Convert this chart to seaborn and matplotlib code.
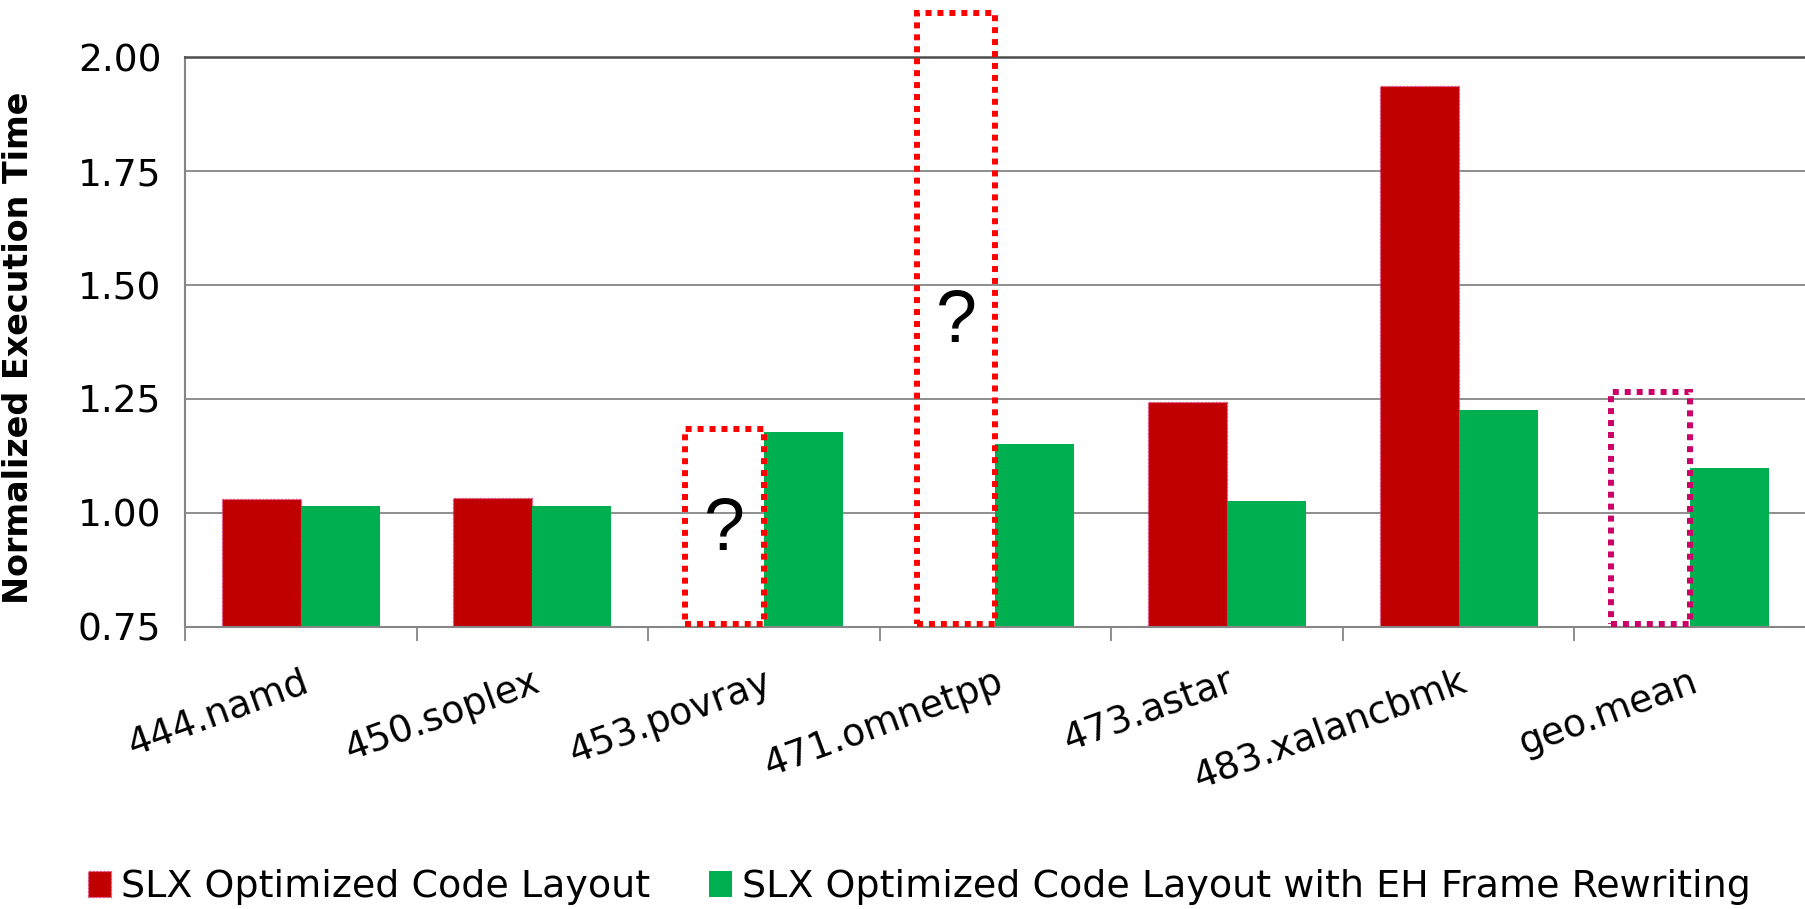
import numpy as np
import pandas as pd
import matplotlib
matplotlib.use("Agg")
import matplotlib.pyplot as plt
from matplotlib.patches import Rectangle, Patch
import seaborn as sns

# ---- data -------------------------------------------------------------
benchmarks = ["444.namd", "450.soplex", "453.povray", "471.omnetpp",
              "473.astar", "483.xalancbmk", "geo.mean"]
layout_only = [1.031, 1.033, np.nan, np.nan, 1.243, 1.936, np.nan]
layout_eh = [1.015, 1.015, 1.178, 1.150, 1.027, 1.226, 1.098]
series_names = ["SLX Optimized Code Layout",
                "SLX Optimized Code Layout with EH Frame Rewriting"]
# results that could not be measured are outlined instead of filled
unknown_benchmarks = ["453.povray", "471.omnetpp", "geo.mean"]
unknown_box_tops = [1.183, 2.097, 1.265]
y_ticks = [0.75, 1.00, 1.25, 1.50, 1.75, 2.00]

# ---- styling ----------------------------------------------------------
sns.set_theme(style="white")
plt.rcParams["font.family"] = ["DejaVu Sans"]
plt.rcParams["text.color"] = "black"

RED = "#C00000"
GREEN = "#00B050"
AXIS_GRAY = "#868686"

df = pd.DataFrame({
    "benchmark": benchmarks * 2,
    "series": [series_names[0]] * len(benchmarks) + [series_names[1]] * len(benchmarks),
    "time": layout_only + layout_eh,
})

W, H = 1806, 909
fig = plt.figure(figsize=(W / 100, H / 100), dpi=100)
ax_left, ax_bottom, ax_top = 185, 626.7, 57.3
ax = fig.add_axes([ax_left / W, 1 - ax_bottom / H, (W - ax_left) / W, (ax_bottom - ax_top) / H])

sns.barplot(data=df, x="benchmark", y="time", hue="series",
            order=benchmarks, hue_order=series_names,
            palette=[RED, GREEN], saturation=1, width=0.682,
            errorbar=None, ax=ax, legend=False)

# thin dotted outline on the red bars
for p in ax.patches:
    fc = p.get_facecolor()
    if fc[0] > 0.6 and fc[1] < 0.1:
        p.set_edgecolor("#E8409A")
        p.set_linestyle(":")
        p.set_linewidth(1.0)
    else:
        p.set_linewidth(0)

ax.set_ylim(0.75, 2.0)
ax.set_xlim(-0.5, len(benchmarks) - 0.5)
ax.set_yticks(y_ticks)
ax.set_yticklabels([f"{v:.2f}" for v in y_ticks], fontsize=27, color="black")
ax.yaxis.grid(True, color=AXIS_GRAY, linewidth=1.3)
ax.set_axisbelow(True)

# category boundary tick marks
ax.set_xticks(np.arange(-0.5, len(benchmarks), 1.0), minor=True)
ax.tick_params(axis="x", which="minor", length=10, width=1.3,
               color=AXIS_GRAY, direction="out", bottom=True)
ax.tick_params(axis="x", which="major", length=0, pad=27)
ax.tick_params(axis="y", length=0, pad=17)
ax.set_xticks(range(len(benchmarks)))
ax.set_xticklabels(benchmarks, rotation=20, ha="right", va="top",
                   rotation_mode="anchor", fontsize=27, color="black")

ax.set_xlabel("")
ax.set_ylabel("Normalized Execution Time", fontsize=24, fontweight="bold",
              color="black")
ax.yaxis.set_label_coords(-0.0925, 0.49)

for side in ["left", "bottom"]:
    ax.spines[side].set_color(AXIS_GRAY)
    ax.spines[side].set_linewidth(1.5)
ax.spines["top"].set_color("#4D4D4D")
ax.spines["top"].set_linewidth(1.8)
ax.spines["right"].set_visible(False)

# dotted outlines for the unmeasured results
slot = 0.682 / 2
box_colors = ["#FF0000", "#FF0000", "#CC0066"]
for name, top, col in zip(unknown_benchmarks, unknown_box_tops, box_colors):
    i = benchmarks.index(name)
    bottom = 0.757
    ax.add_patch(Rectangle((i - slot, bottom), slot, top - bottom, fill=False,
                           edgecolor=col, linewidth=4.3, linestyle=(0, (1, 1)),
                           clip_on=False, zorder=4))

# question marks inside the two red outlines
mark_heights = [0.962, 1.418]
for name, yq in zip(unknown_benchmarks[:2], mark_heights):
    i = benchmarks.index(name)
    ax.text(i - slot / 2, yq, "?", ha="center", va="center", fontsize=53,
            family=["Liberation Sans", "DejaVu Sans"], color="black", zorder=5)

handles = [Patch(facecolor=RED, edgecolor="#E8409A", linestyle=":", linewidth=1.0),
           Patch(facecolor=GREEN, edgecolor=GREEN, linewidth=0)]
fig.legend(handles, series_names, loc="center", bbox_to_anchor=(0.509, 0.024),
           ncol=2, frameon=False, fontsize=27.4, handlelength=0.62,
           handleheight=0.7, handletextpad=0.25, columnspacing=1.55,
           labelcolor="black")

fig.savefig("out.png", dpi=100, facecolor="white")
